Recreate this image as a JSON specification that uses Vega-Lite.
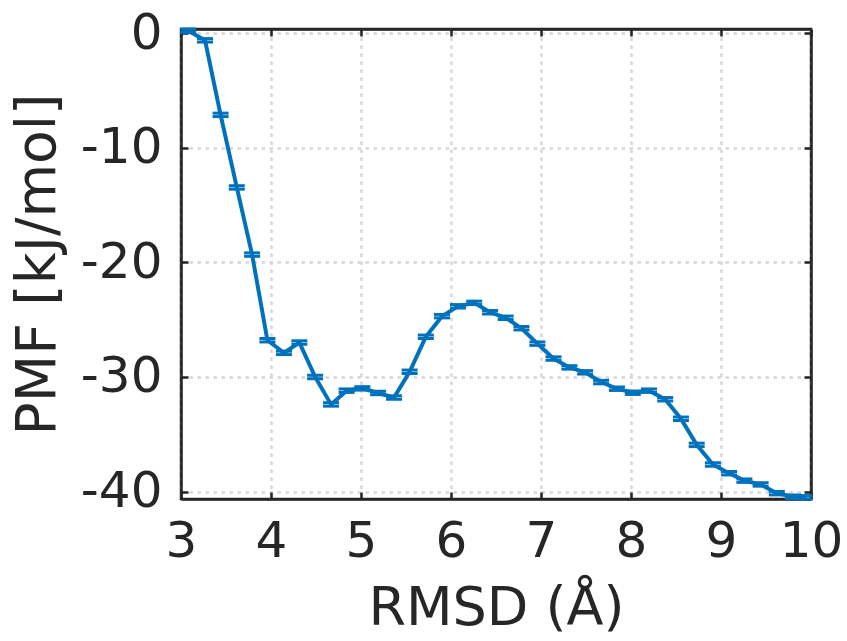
{
  "$schema": "https://vega.github.io/schema/vega-lite/v6.json",
  "width": 630,
  "height": 470,
  "autosize": {"type": "none"},
  "padding": {"left": 181, "top": 29, "right": 36, "bottom": 142},
  "background": "white",
  "config": {
    "font": "DejaVu Sans",
    "view": {"stroke": "#262626", "strokeWidth": 2.5},
    "axis": {
      "labelFont": "DejaVu Sans",
      "titleFont": "DejaVu Sans",
      "labelColor": "#262626",
      "titleColor": "#262626",
      "titleFontWeight": "normal",
      "domainColor": "#262626",
      "domainWidth": 2.5,
      "tickColor": "#262626",
      "tickWidth": 2.5,
      "tickSize": -7
    }
  },
  "data": {
    "values": [
      {"rmsd": 3.08, "pmf": 0.2, "err": 0.15},
      {"rmsd": 3.267, "pmf": -0.64, "err": 0.15},
      {"rmsd": 3.44, "pmf": -7.14, "err": 0.15},
      {"rmsd": 3.62, "pmf": -13.47, "err": 0.15},
      {"rmsd": 3.79, "pmf": -19.33, "err": 0.15},
      {"rmsd": 3.96, "pmf": -26.8, "err": 0.15},
      {"rmsd": 4.144, "pmf": -27.9, "err": 0.15},
      {"rmsd": 4.315, "pmf": -27.0, "err": 0.15},
      {"rmsd": 4.49, "pmf": -30.0, "err": 0.15},
      {"rmsd": 4.667, "pmf": -32.4, "err": 0.15},
      {"rmsd": 4.84, "pmf": -31.2, "err": 0.15},
      {"rmsd": 5.015, "pmf": -31.0, "err": 0.15},
      {"rmsd": 5.19, "pmf": -31.4, "err": 0.15},
      {"rmsd": 5.367, "pmf": -31.8, "err": 0.15},
      {"rmsd": 5.54, "pmf": -29.55, "err": 0.15},
      {"rmsd": 5.72, "pmf": -26.5, "err": 0.15},
      {"rmsd": 5.9, "pmf": -24.7, "err": 0.15},
      {"rmsd": 6.078, "pmf": -23.84, "err": 0.15},
      {"rmsd": 6.258, "pmf": -23.54, "err": 0.15},
      {"rmsd": 6.434, "pmf": -24.36, "err": 0.15},
      {"rmsd": 6.607, "pmf": -24.84, "err": 0.15},
      {"rmsd": 6.783, "pmf": -25.75, "err": 0.15},
      {"rmsd": 6.96, "pmf": -27.1, "err": 0.15},
      {"rmsd": 7.139, "pmf": -28.4, "err": 0.15},
      {"rmsd": 7.316, "pmf": -29.17, "err": 0.15},
      {"rmsd": 7.49, "pmf": -29.6, "err": 0.15},
      {"rmsd": 7.668, "pmf": -30.45, "err": 0.15},
      {"rmsd": 7.844, "pmf": -31.03, "err": 0.15},
      {"rmsd": 8.02, "pmf": -31.38, "err": 0.15},
      {"rmsd": 8.2, "pmf": -31.2, "err": 0.15},
      {"rmsd": 8.38, "pmf": -31.95, "err": 0.15},
      {"rmsd": 8.555, "pmf": -33.65, "err": 0.15},
      {"rmsd": 8.73, "pmf": -35.93, "err": 0.15},
      {"rmsd": 8.91, "pmf": -37.64, "err": 0.15},
      {"rmsd": 9.09, "pmf": -38.4, "err": 0.15},
      {"rmsd": 9.26, "pmf": -39.05, "err": 0.15},
      {"rmsd": 9.44, "pmf": -39.38, "err": 0.15},
      {"rmsd": 9.62, "pmf": -40.14, "err": 0.15},
      {"rmsd": 9.8, "pmf": -40.45, "err": 0.15},
      {"rmsd": 9.93, "pmf": -40.5, "err": 0.15}
    ]
  },
  "layer": [
    {
      "mark": {"type": "line", "color": "#0072BD", "strokeWidth": 4},
      "encoding": {
        "x": {
          "field": "rmsd", "type": "quantitative",
          "scale": {"domain": [3, 10], "nice": false, "zero": false},
          "axis": {
            "title": "RMSD (Å)",
            "values": [3, 4, 5, 6, 7, 8, 9, 10],
            "grid": true, "gridColor": "#d6d6d6", "gridDash": [3.5, 4.5], "gridWidth": 2.5,
            "labelFontSize": 50, "labelPadding": 24, "labelFlush": false,
            "labelExpr": "'' + datum.value",
            "titleFontSize": 54, "titleBaseline": "middle", "titleY": 109, "titleX": 315
          }
        },
        "y": {
          "field": "pmf", "type": "quantitative",
          "scale": {"domain": [-40.65, 0.35], "nice": false, "zero": false},
          "axis": {
            "title": "PMF [kJ/mol]",
            "values": [-40, -30, -20, -10, 0],
            "grid": true, "gridColor": "#d6d6d6", "gridDash": [3.5, 4.5], "gridWidth": 2.5,
            "labelFontSize": 50, "labelPadding": 26, "labelFlush": false,
            "labelExpr": "'' + datum.value",
            "titleFontSize": 55, "titleBaseline": "middle", "titleX": -144, "titleY": 235, "titleAngle": -90
          }
        }
      }
    },
    {
      "mark": {
        "type": "errorbar", "color": "#0072BD", "opacity": 1,
        "ticks": {"size": 16, "thickness": 3, "opacity": 1},
        "rule": {"strokeWidth": 3, "opacity": 1}
      },
      "encoding": {
        "x": {"field": "rmsd", "type": "quantitative", "axis": null},
        "y": {"field": "pmf", "type": "quantitative", "axis": null},
        "yError": {"field": "err"}
      }
    },
    {
      "mark": {"type": "line", "opacity": 0},
      "encoding": {
        "x": {
          "field": "rmsd", "type": "quantitative",
          "axis": {"orient": "top", "values": [3, 4, 5, 6, 7, 8, 9, 10], "labels": false, "title": null, "grid": false, "domain": true}
        },
        "y": {
          "field": "pmf", "type": "quantitative",
          "axis": {"orient": "right", "values": [-40, -30, -20, -10, 0], "labels": false, "title": null, "grid": false, "domain": true}
        }
      }
    }
  ],
  "resolve": {"axis": {"x": "independent", "y": "independent"}}
}
